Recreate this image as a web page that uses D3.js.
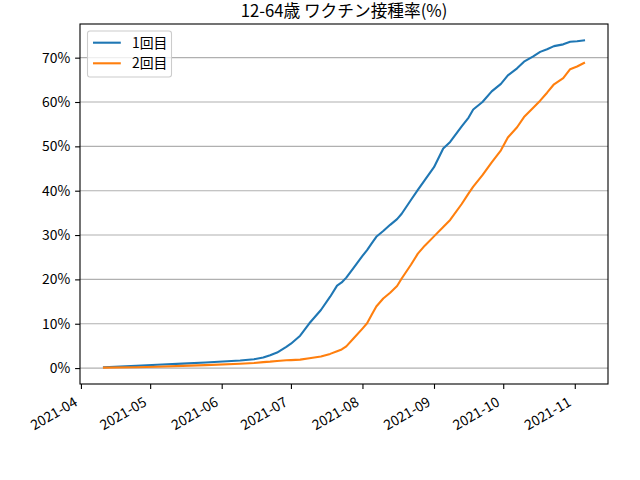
<!DOCTYPE html>
<html>
<head>
<meta charset="utf-8">
<script src="https://cdn.jsdelivr.net/npm/d3@7"></script>
<style>
	body { margin: 0; background: #fff; }
	svg { display: block; font-family: "Noto Sans CJK JP", "Noto Sans", sans-serif; }
</style>
</head>
<body>
<svg width="640" height="480"></svg>
<script>
// dates of the readings
var dates = ["2021-04-11", "2021-04-25", "2021-05-04", "2021-05-15", "2021-05-25",
	"2021-06-09", "2021-06-15", "2021-06-19", "2021-06-22", "2021-06-25", "2021-06-29",
	"2021-07-01", "2021-07-05", "2021-07-09", "2021-07-14", "2021-07-18", "2021-07-21",
	"2021-07-23", "2021-07-25", "2021-07-28", "2021-08-01", "2021-08-03", "2021-08-05",
	"2021-08-07", "2021-08-10", "2021-08-13", "2021-08-16", "2021-08-18", "2021-08-22",
	"2021-08-25", "2021-08-28", "2021-09-01", "2021-09-05", "2021-09-08", "2021-09-13",
	"2021-09-16", "2021-09-18", "2021-09-22", "2021-09-26", "2021-09-30", "2021-10-03",
	"2021-10-07", "2021-10-10", "2021-10-14", "2021-10-17", "2021-10-20", "2021-10-23",
	"2021-10-27", "2021-10-30", "2021-11-02", "2021-11-05"];

// 1回目 (%)
var dose1 = [0.2, 0.5, 0.74, 1.0, 1.27,
	1.7, 2.0, 2.4, 2.9, 3.5, 4.8,
	5.5, 7.3, 10.1, 13.1, 16.1, 18.6,
	19.3, 20.4, 22.5, 25.3, 26.6, 28.1,
	29.6, 30.9, 32.3, 33.6, 34.8, 37.9,
	40.2, 42.4, 45.3, 49.5, 51.0, 54.5,
	56.5, 58.3, 60.0, 62.4, 64.1, 66.0,
	67.6, 69.1, 70.3, 71.3, 71.9, 72.6,
	73.0, 73.6, 73.7, 73.9];

// 2回目 (%)
var dose2 = [0.1, 0.2, 0.3, 0.5, 0.67,
	0.97, 1.15, 1.35, 1.45, 1.6, 1.75,
	1.8, 1.9, 2.2, 2.6, 3.2, 3.8,
	4.2, 4.9, 6.6, 8.9, 10.1, 12.0,
	13.9, 15.7, 17.0, 18.5, 20.2, 23.3,
	25.8, 27.6, 29.7, 31.8, 33.4, 37.0,
	39.4, 40.9, 43.5, 46.4, 49.1, 52.0,
	54.3, 56.6, 58.7, 60.3, 62.1, 64.0,
	65.4, 67.4, 68.0, 68.8];

var yTicks = [0, 10, 20, 30, 40, 50, 60, 70];
var xTicks = ["2021-04-01", "2021-05-01", "2021-06-01", "2021-07-01",
	"2021-08-01", "2021-09-01", "2021-10-01", "2021-11-01"];
var labels = ["1回目", "2回目"];
var colors = ["#1f77b4", "#ff7f0e"];
var title = "12-64歳 ワクチン接種率(%)";

var parse = d3.timeParse("%Y-%m-%d");
var fontSize = 13.9;

// plot area (window.top is reserved, so use a box object)
var box = { left: 80, right: 608, top: 24, bottom: 384 };

var svg = d3.select("svg");

var series = [dose1, dose2].map(function(vals, k) {
	return {
		label: labels[k],
		color: colors[k],
		values: vals.map(function(v, i) { return { date: parse(dates[i]), value: v }; })
	};
});

// matplotlib-like 5% margins around the data
var dExt = d3.extent(dates, function(d) { return parse(d); });
var dPad = (dExt[1] - dExt[0]) * 0.05;
var vExt = d3.extent(dose1.concat(dose2));
var vPad = (vExt[1] - vExt[0]) * 0.05;

var x = d3.scaleTime()
	.domain([new Date(+dExt[0] - dPad), new Date(+dExt[1] + dPad)])
	.range([box.left, box.right]);

var y = d3.scaleLinear()
	.domain([vExt[0] - vPad, vExt[1] + vPad])
	.range([box.bottom, box.top]);

// horizontal grid
svg.append("g")
	.selectAll("line")
	.data(yTicks)
	.enter().append("line")
	.attr("x1", box.left)
	.attr("x2", box.right)
	.attr("y1", function(d) { return y(d); })
	.attr("y2", function(d) { return y(d); })
	.attr("stroke", "#b0b0b0")
	.attr("stroke-width", 1.1);

// lines
var line = d3.line()
	.x(function(d) { return x(d.date); })
	.y(function(d) { return y(d.value); });

svg.append("g")
	.selectAll("path")
	.data(series)
	.enter().append("path")
	.attr("d", function(d) { return line(d.values); })
	.attr("fill", "none")
	.attr("stroke", function(d) { return d.color; })
	.attr("stroke-width", 2.1)
	.attr("stroke-linejoin", "round")
	.attr("stroke-linecap", "square");

// y axis
var yAxis = d3.axisLeft(y)
	.tickValues(yTicks)
	.tickSize(4.9)
	.tickPadding(4.9)
	.tickFormat(function(d) { return d + "%"; });

var gy = svg.append("g")
	.attr("transform", "translate(" + box.left + ",0)")
	.call(yAxis);
gy.select(".domain").remove();
gy.selectAll("line").attr("stroke", "#000").attr("stroke-width", 1.1);
gy.selectAll("text")
	.attr("font-size", fontSize)
	.attr("font-family", "'Noto Sans CJK JP', sans-serif")
	.attr("fill", "#000");

// x axis, labels rotated like autofmt_xdate
var xAxis = d3.axisBottom(x)
	.tickValues(xTicks.map(parse))
	.tickSize(4.9)
	.tickFormat(d3.timeFormat("%Y-%m"));

var gx = svg.append("g")
	.attr("transform", "translate(0," + box.bottom + ")")
	.call(xAxis);
gx.select(".domain").remove();
gx.selectAll("line").attr("stroke", "#000").attr("stroke-width", 1.1);
gx.selectAll("text")
	.attr("font-size", fontSize)
	.attr("font-family", "'Noto Sans CJK JP', sans-serif")
	.attr("fill", "#000")
	.attr("text-anchor", "end")
	.attr("y", 0)
	.attr("dy", 0)
	.attr("transform", "translate(-3, 21) rotate(-30)");

// frame
svg.append("rect")
	.attr("x", box.left)
	.attr("y", box.top)
	.attr("width", box.right - box.left)
	.attr("height", box.bottom - box.top)
	.attr("fill", "none")
	.attr("stroke", "#000")
	.attr("stroke-width", 1.1);

// title
svg.append("text")
	.attr("x", (box.left + box.right) / 2)
	.attr("y", 16.5)
	.attr("text-anchor", "middle")
	.attr("font-size", 16.7)
	.text(title);

// legend
var legend = svg.append("g")
	.attr("transform", "translate(87.5, 31)");

legend.append("rect")
	.attr("width", 84)
	.attr("height", 46)
	.attr("rx", 2.5)
	.attr("fill", "#fff")
	.attr("fill-opacity", 0.8)
	.attr("stroke", "#cccccc")
	.attr("stroke-width", 1.1);

var items = legend.selectAll("g.item")
	.data(series)
	.enter().append("g")
	.attr("class", "item")
	.attr("transform", function(d, i) { return "translate(0," + (11.7 + i * 20.6) + ")"; });

items.append("line")
	.attr("x1", 5.5)
	.attr("x2", 33.3)
	.attr("stroke", function(d) { return d.color; })
	.attr("stroke-width", 2.1);

items.append("text")
	.attr("x", 44.5)
	.attr("y", 5)
	.attr("font-size", fontSize)
	.text(function(d) { return d.label; });
</script>
</body>
</html>
